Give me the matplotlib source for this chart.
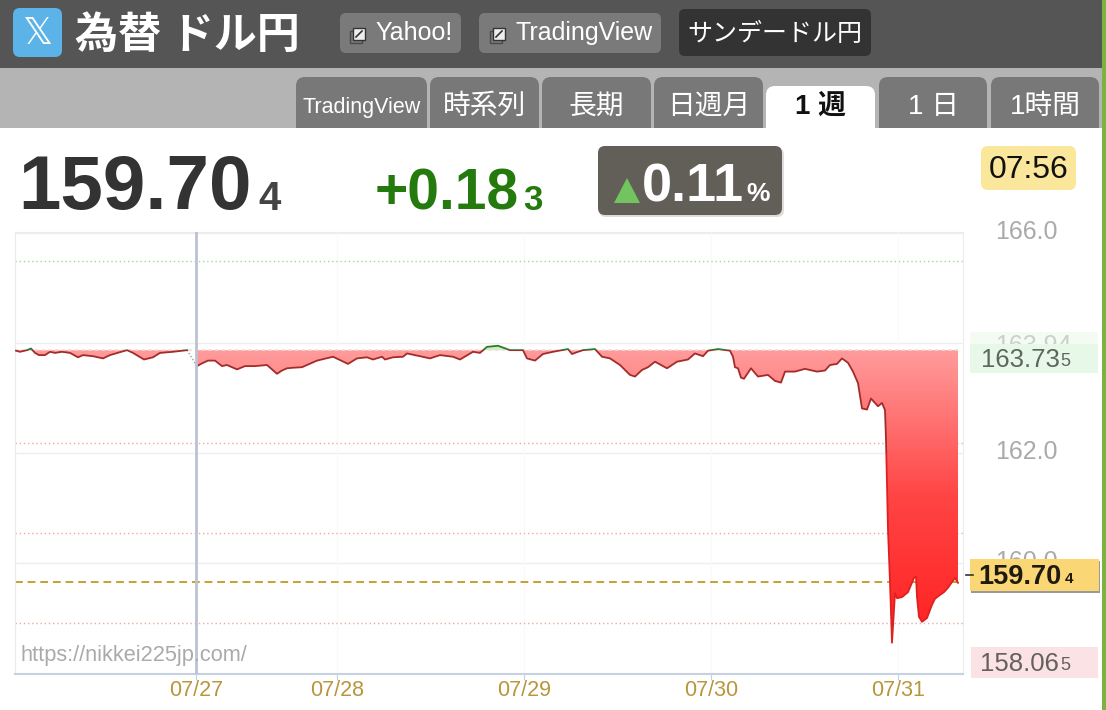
import numpy as np
import matplotlib
matplotlib.use("Agg")
import matplotlib.pyplot as plt
from matplotlib.colors import LinearSegmentedColormap
from matplotlib.patches import FancyBboxPatch, Polygon, Rectangle
from matplotlib.path import Path
from matplotlib.transforms import ScaledTranslation

plt.rcParams['font.family'] = ['Liberation Sans', 'Noto Sans CJK JP', 'DejaVu Sans']

# samples along the time axis, and the price at each one
sample_a = [1, 5, 12, 16, 20, 24, 30, 35, 40, 47, 55, 63, 68, 78, 88, 95, 112, 118, 129, 138, 145, 158, 172]
price_a = [163.86, 163.84, 163.87, 163.90, 163.82, 163.78, 163.78, 163.84, 163.82, 163.84, 163.82, 163.74,
           163.78, 163.76, 163.72, 163.78, 163.87, 163.82, 163.70, 163.74, 163.82, 163.84, 163.87]

sample_b = [182, 187, 193, 200, 207, 212, 222, 230, 240, 252, 262, 267, 272, 278, 287, 302, 318, 325,
            333, 342, 352, 358, 367, 370, 378, 388, 392, 405, 415, 425, 438, 445, 458, 465, 472, 483,
            495, 508, 512, 520, 528, 538, 553, 557, 563, 568, 580, 587, 595, 605, 615, 620, 627, 633,
            640, 652, 662, 673, 680, 688, 693, 703, 715, 718, 720, 723, 726, 729, 736, 743, 753, 760,
            766, 770, 780, 790, 802, 810, 815, 822, 827, 833, 838, 843, 847, 852, 856, 863, 867, 870,
            871, 873, 875, 877, 880, 882, 887, 893, 899, 901, 902, 904, 907, 912, 917, 920, 925, 929,
            933, 940, 943]
price_b = [163.58, 163.63, 163.68, 163.68, 163.58, 163.60, 163.52, 163.58, 163.58, 163.60, 163.44, 163.50,
           163.54, 163.55, 163.56, 163.68, 163.75, 163.69, 163.62, 163.72, 163.74, 163.70, 163.75, 163.70,
           163.74, 163.75, 163.81, 163.76, 163.72, 163.78, 163.75, 163.70, 163.84, 163.82, 163.93, 163.95,
           163.87, 163.87, 163.72, 163.68, 163.80, 163.84, 163.89, 163.80, 163.84, 163.87, 163.89, 163.75,
           163.72, 163.60, 163.42, 163.39, 163.51, 163.56, 163.66, 163.54, 163.66, 163.70, 163.81, 163.76,
           163.86, 163.89, 163.86, 163.75, 163.56, 163.54, 163.37, 163.35, 163.54, 163.39, 163.42, 163.31,
           163.28, 163.48, 163.48, 163.53, 163.48, 163.50, 163.60, 163.62, 163.72, 163.64, 163.48, 163.27,
           162.81, 162.79, 162.99, 162.85, 162.91, 162.78, 162.24, 160.60, 159.65, 158.55, 159.45, 159.36,
           159.38, 159.47, 159.73, 159.75, 159.38, 159.02, 158.93, 159.00, 159.24, 159.35, 159.42, 159.47,
           159.55, 159.73, 159.64]

base_price = 163.87
last_price = 159.66
band_green = 165.49
band_red = [162.18, 160.55, 158.91]
y_ticks = [166, 164, 162, 160]
y_labels = ["166.0", "163.94", "162.0", "160.0"]
day_ticks = [181, 322, 509, 696, 883]
day_labels = ["07/27", "07/28", "07/29", "07/30", "07/31"]
tabs = ["TradingView", "時系列", "長期", "日週月", "1週", "1日", "1時間"]

W, H = 1106, 710
fig = plt.figure(figsize=(W / 100, H / 100), dpi=100)
fig.patch.set_facecolor("white")


def pixel_axes(zorder):
    a = fig.add_axes([0, 0, 1, 1], zorder=zorder)
    a.set_xlim(0, W)
    a.set_ylim(H, 0)
    a.axis("off")
    return a


def box(a, x0, y0, x1, y1, color, r=6, **kw):
    a.add_patch(FancyBboxPatch((x0 + r, y0 + r), x1 - x0 - 2 * r, y1 - y0 - 2 * r,
                               boxstyle=f"round,pad={r},rounding_size={r}", fc=color, ec="none", **kw))


def link_icon(a, x, y):
    a.add_patch(Rectangle((x - 3, y + 3), 12, 12, fc="none", ec="#4a4a4a", lw=1))
    a.add_patch(Rectangle((x, y), 12, 12, fc="#eeeeee", ec="#333333", lw=1))
    a.plot([x + 3, x + 9], [y + 9, y + 3], color="#333333", lw=1.2)


# page chrome behind the chart
back = pixel_axes(0)
back.add_patch(Rectangle((0, 0), W, 69, fc="#555555", ec="none"))
back.add_patch(Rectangle((0, 68), W, 62, fc="#b4b4b4", ec="none"))
back.add_patch(Rectangle((0, 128), W, H - 128, fc="white", ec="none"))
back.add_patch(Rectangle((1102, 0), 4, H, fc="#7ab33f", ec="none"))

box(back, 13, 8, 62, 57, "#5cb3e8", r=7)
back.text(37.5, 34, "𝕏", color="white", fontsize=27, ha="center", va="center", family="DejaVu Sans")
back.text(75, 35, "為替 ドル円", color="white", fontsize=31, weight="bold", ha="left", va="center",
          family=['Noto Sans CJK JP'])

box(back, 340, 13, 461, 53, "#7a7a7a")
link_icon(back, 353, 28)
back.text(375, 33, "Yahoo!", color="white", fontsize=18, va="center")
box(back, 479, 13, 661, 53, "#7a7a7a")
link_icon(back, 493, 28)
back.text(515, 33, "TradingView", color="white", fontsize=18, va="center")
box(back, 679, 9, 871, 56, "#333333")
back.text(775, 34, "サンデードル円", color="white", fontsize=18, ha="center", va="center", family=['Noto Sans CJK JP'])

tab_edges = [(296, 427), (430, 539), (542, 651), (654, 763), (766, 875), (879, 987), (991, 1099)]
for name, (x0, x1) in zip(tabs, tab_edges):
    active = name == "1週"
    top = 86 if active else 77
    box(back, x0, top, x1, 140, "white" if active else "#787878", r=9)
    size = 15.5 if name == "TradingView" else 20
    label = {"1週": "1 週", "1日": "1 日"}.get(name, name)
    back.text((x0 + x1) / 2, 107, label, color="#111111" if active else "white", fontsize=size,
              weight="bold" if active else "normal", ha="center", va="center",
              family=['Liberation Sans', 'Noto Sans CJK JP'])
back.add_patch(Rectangle((0, 128), 766, 14, fc="white", ec="none"))
back.add_patch(Rectangle((875, 128), 227, 14, fc="white", ec="none"))

# headline numbers
back.text(18, 190, "159.70", color="#333333", fontsize=55, weight="bold", va="center")
back.text(258, 199, "4", color="#444444", fontsize=29, weight="bold", va="center")
back.text(375, 195, "+0.18", color="#247a0c", fontsize=41, weight="bold", va="center")
back.text(523, 201, "3", color="#247a0c", fontsize=25, weight="bold", va="center")

box(back, 599, 148, 784, 217, "#dddddd", r=7)
box(back, 598, 146, 782, 215, "#625f58", r=7)
back.add_patch(Polygon([(614, 203), (640, 203), (627, 178)], fc="#72c45f", ec="none"))
back.text(642, 188, "0.11", color="white", fontsize=39, weight="bold", va="center")
back.text(746, 194, "%", color="white", fontsize=19, weight="bold", va="center")

box(back, 981, 146, 1076, 190, "#fbe79b", r=7)
back.text(1028.5, 170, "07:56", color="#111111", fontsize=23, ha="center", va="center")

# chart
ax = fig.add_axes([15 / W, 1 - 674 / H, 948 / W, 442 / H], zorder=1)
ax.set_facecolor("white")

for v in y_ticks:
    ax.axhline(v, color="#eeeeee", lw=1, zorder=1)
for d in day_ticks:
    ax.axvline(d, color="#fafafa", lw=1, zorder=1)

ax.axhline(band_green, color="#9adf8f", lw=1, ls=(0, (1, 2)), zorder=2)
for v in band_red:
    ax.axhline(v, color="#f2a8a0", lw=1, ls=(0, (1, 2)), zorder=2)
ax.axhline(last_price, color="#c8a030", lw=1.4, ls=(0, (4, 2.5)), zorder=2.5)

xa, ya = np.array(sample_a, dtype=float), np.array(price_a)
xb, yb = np.array(sample_b, dtype=float), np.array(price_b)

red_map = LinearSegmentedColormap.from_list("drop", ["#ff2020", "#ff4444", "#ff9c9c"])
paths = []
for xs, ys in [(xa, ya), (xb, yb)]:
    ax.fill_between(xs, ys, base_price, where=ys >= base_price, interpolate=True, color="#c8f0c0", lw=0, zorder=2)
    poly = ax.fill_between(xs, ys, base_price, where=ys <= base_price, interpolate=True, color="none", lw=0)
    paths.extend(poly.get_paths())
shade = ax.imshow(np.linspace(0, 1, 256).reshape(-1, 1), cmap=red_map, origin="lower", aspect="auto",
                  extent=[0, 948, 158.5, base_price], zorder=3)
shade.set_clip_path(Path.make_compound_path(*paths), transform=ax.transData)
ax.set_xlim(0, 948)
ax.set_ylim(160 + (563 - 674) / 55, 160 + (563 - 232) / 55)

ax.axhline(base_price, xmax=943 / 948, color="#f4d8d8", lw=1.2, ls=(0, (2, 2)), zorder=4)

# line colour follows the side of the base price it is on
zones = [("#2f7a2a", base_price, 167), ("#a52a2a", 162, base_price), ("#e02020", 157, 162)]
for xs, ys in [(xa, ya), (xb, yb)]:
    for color, low, high in zones:
        line, = ax.plot(xs, ys, color=color, lw=1.3, zorder=5)
        line.set_clip_path(Rectangle((0, low), 948, high - low, transform=ax.transData))
ax.plot([xa[-1], xb[0]], [ya[-1], yb[0]], color="#999999", lw=1, ls=(0, (1, 1.5)), zorder=4)

ax.axvline(day_ticks[0], color="#bcc2d2", lw=2, zorder=6)

ax.set_xticks(day_ticks)
ax.set_xticklabels(day_labels, color="#b8963c", fontsize=15.5)
ax.tick_params(axis="x", length=4, color="#c5d0e0", pad=0)
ax.yaxis.tick_right()
ax.set_yticks(y_ticks)
ax.set_yticklabels(y_labels, color="#aaaaaa", fontsize=18)
ax.tick_params(axis="y", length=0, pad=23)
for label in ax.get_yticklabels():
    shift = -0.005 if label.get_text() == "163.94" else 0.035
    label.set_transform(label.get_transform() + ScaledTranslation(0, shift, fig.dpi_scale_trans))
for name in ["top", "left", "right"]:
    ax.spines[name].set_color("#ececec")
ax.spines["bottom"].set_color("#c5d0e0")
ax.spines["bottom"].set_linewidth(1.5)
ax.text(20, 656, "https://nikkei225jp.com/", color="#aaaaaa", fontsize=15.7, va="center", zorder=7,
        transform=back.transData)

# price boxes over the axis labels
front = pixel_axes(2)
front.add_patch(Rectangle((970, 332), 128, 12, fc="#e8f8e8", ec="none", alpha=0.5))
front.add_patch(Rectangle((970, 344), 128, 29, fc="#e8f8e8", ec="none"))
front.text(981, 360, "163.73", color="#5d665f", fontsize=18.5, va="center")
front.text(1060, 362, "5", color="#5d665f", fontsize=13, va="center")
front.add_patch(Rectangle((971, 561), 129, 32, fc="#999999", ec="none"))
front.add_patch(Rectangle((970, 559), 129, 32, fc="#fbd674", ec="none"))
front.text(978, 577, "159.70", color="#1f1a10", fontsize=19.5, weight="bold", va="center")
front.text(1065, 579, "4", color="#1f1a10", fontsize=11, weight="bold", va="center")
front.plot([966, 973], [575, 575], color="#333333", lw=1.2)
front.add_patch(Rectangle((971, 647), 127, 31, fc="#fbe2e4", ec="none"))
front.text(980, 664, "158.06", color="#63605f", fontsize=18.5, va="center")
front.text(1060, 666, "5", color="#63605f", fontsize=13, va="center")

fig.savefig("out.png", dpi=100)
